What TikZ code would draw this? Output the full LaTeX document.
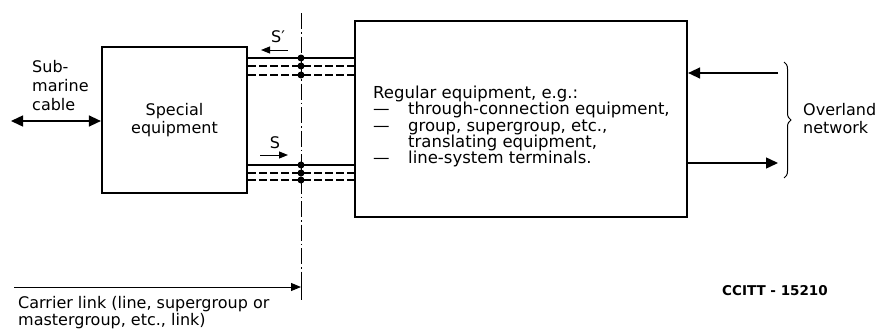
\documentclass[tikz,border=0pt]{standalone}
\usepackage{fontspec}
\setmainfont{DejaVu Sans}
\usetikzlibrary{arrows.meta,decorations.pathreplacing}
\begin{document}
\begin{tikzpicture}[x=1pt,y=-1pt,
  box/.style={draw, line width=2.2pt, inner sep=0pt},
  link/.style={line width=1.3pt},
  dlink/.style={line width=1.3pt, dash pattern=on 7.5pt off 3.5pt},
  axisline/.style={line width=0.9pt, dash pattern=on 16pt off 3pt on 1.5pt off 3pt},
  dot/.style={circle, fill=black, inner sep=0pt, minimum size=7pt},
  bigarr/.style={line width=1.4pt, -{Triangle[length=12pt,width=11pt]}},
  dbarr/.style={line width=1.4pt, {Triangle[length=12pt,width=11pt]}-{Triangle[length=12pt,width=11pt]}},
  sarr/.style={line width=1pt, -{Triangle[length=9pt,width=7pt]}},
  carr/.style={line width=1pt, -{Triangle[length=10pt,width=8pt]}},
  txt/.style={font=\fontsize{16}{18}\selectfont, inner sep=0pt},
  rtxt/.style={font=\fontsize{16.5}{18}\selectfont, inner sep=0pt},
  bracestyle/.style={line width=1pt, decorate, decoration={brace, amplitude=7pt}}
]
\useasboundingbox (0,0) rectangle (876,332);

% boxes
\node[box, minimum width=145pt, minimum height=146pt, align=center, txt] (special) at (174.5,120)
  {Special\\equipment};
\node[box, minimum width=332pt, minimum height=196pt] (regular) at (521,119) {};

% regular equipment text
\node[rtxt, anchor=base west] (r0) at (373,98) {Regular equipment, e.g.:};
\node[rtxt, anchor=base west] (r1) at (373,114.5) {\makebox[35pt][l]{—}through-connection equipment,};
\node[rtxt, anchor=base west] (r2) at (373,131) {\makebox[35pt][l]{—}group, supergroup, etc.,};
\node[rtxt, anchor=base west] (r3) at (408,147) {translating equipment,};
\node[rtxt, anchor=base west] (r4) at (373,163) {\makebox[35pt][l]{—}line-system terminals.};

% submarine cable
\node[txt, anchor=base west] (sub1) at (32,72) {Sub-};
\node[txt, anchor=base west] (sub2) at (32,91) {marine};
\node[txt, anchor=base west] (sub3) at (32,110) {cable};
\coordinate (cab) at (11,121);
\draw[dbarr] (cab) -- (cab -| special.west);

% vertical dash-dot line
\coordinate (axt) at (301,13);
\coordinate (axb) at (301,300);
\draw[axisline] (axt) -- (axb);

% dots
\node[dot] (t1) at (301,58) {};
\node[dot] (t2) at (301,66) {};
\node[dot] (t3) at (301,75) {};
\node[dot] (b1) at (301,165) {};
\node[dot] (b2) at (301,173) {};
\node[dot] (b3) at (301,180) {};

% connecting lines
\draw[link]  (t1 -| special.east) -- (t1 -| regular.west);
\draw[dlink] (t2 -| special.east) -- (t2 -| regular.west);
\draw[dlink] (t3 -| special.east) -- (t3 -| regular.west);
\draw[link]  (b1 -| special.east) -- (b1 -| regular.west);
\draw[dlink] (b2 -| special.east) -- (b2 -| regular.west);
\draw[dlink] (b3 -| special.east) -- (b3 -| regular.west);

% S' and S
\node[txt, anchor=base] (slabp) at (278,42) {S′};
\coordinate (spa) at (288,50);
\coordinate (spb) at (261,50);
\draw[sarr] (spa) -- (spb);
\node[txt, anchor=base] (slab) at (275,148) {S};
\coordinate (sa) at (260,155);
\coordinate (sb) at (288,155);
\draw[sarr] (sa) -- (sb);

% overland
\coordinate (oa1) at (778,73);
\draw[bigarr] (oa1) -- (oa1 -| regular.east);
\coordinate (oa2) at (778,163);
\draw[bigarr] (oa2 -| regular.east) -- (oa2);
\coordinate (brt) at (784,62);
\coordinate (brb) at (784,178);
\draw[bracestyle] (brt) -- (brb);
\node[txt, anchor=base west] (ov1) at (803,115) {Overland};
\node[txt, anchor=base west] (ov2) at (803,133) {network};

% carrier link
\coordinate (cl) at (14,287);
\draw[carr] (cl) -- (cl -| axb);
\coordinate (tk1) at (301,277);
\coordinate (tk2) at (301,297);
\draw[line width=1pt] (tk1) -- (tk2);
\node[txt, anchor=base west] (cl1) at (18,308) {Carrier link (line, supergroup or};
\node[txt, anchor=base west] (cl2) at (18,325) {mastergroup, etc., link)};

% figure id
\node[inner sep=0pt, anchor=base west, font=\fontsize{13.5}{16}\selectfont\bfseries] (ccitt) at (722,295) {CCITT - 15210};
\end{tikzpicture}
\end{document}
